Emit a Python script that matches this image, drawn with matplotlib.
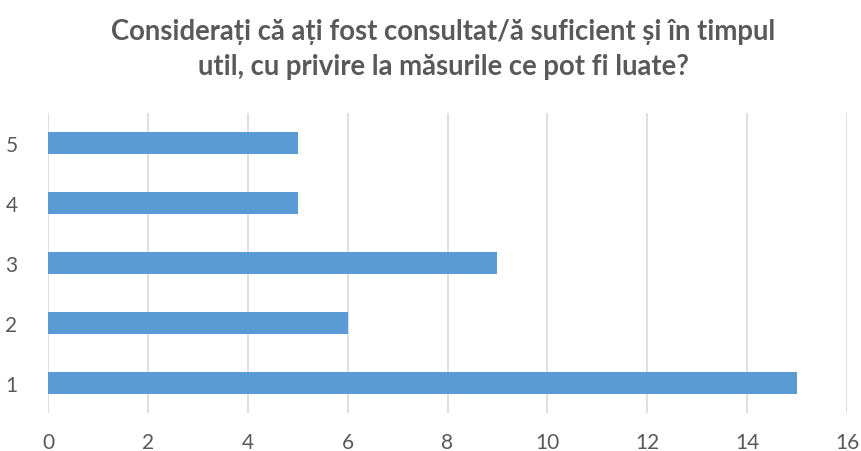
import matplotlib
matplotlib.use("Agg")
import matplotlib.pyplot as plt

categories = ["1", "2", "3", "4", "5"]
values = [15, 6, 9, 5, 5]
xticks = [0, 2, 4, 6, 8, 10, 12, 14, 16]

title = "Considerați că ați fost consultat/ă suficient și în timpul\nutil, cu privire la măsurile ce pot fi luate?"

plt.rcParams['font.family'] = ['Lato', 'DejaVu Sans']

fig = plt.figure(figsize=(8.61, 4.52), dpi=100)
ax = fig.add_axes([48/861, 1-414/452, 799/861, 300/452])

ax.barh(range(len(categories)), values, height=0.36, color="#5b9bd5", zorder=3)

ax.set_xlim(0, 16)
ax.set_ylim(-0.5, 4.5)
ax.set_xticks(xticks)
ax.set_xticklabels([str(t) for t in xticks], fontsize=15, color="#595959")
ax.set_yticks(range(len(categories)))
ax.set_yticklabels(categories, fontsize=15, color="#595959")
ax.grid(axis="x", color="#d9d9d9", linewidth=1.2, zorder=0)
ax.tick_params(length=0, pad=14)
ax.tick_params(axis="y", pad=22)
for s in ax.spines.values():
    s.set_visible(False)

fig.text(443/861, 0.89, title, ha="center", va="center", fontsize=19.8,
         fontweight="bold", color="#595959", linespacing=1.45)

fig.savefig("out.png", dpi=100)
